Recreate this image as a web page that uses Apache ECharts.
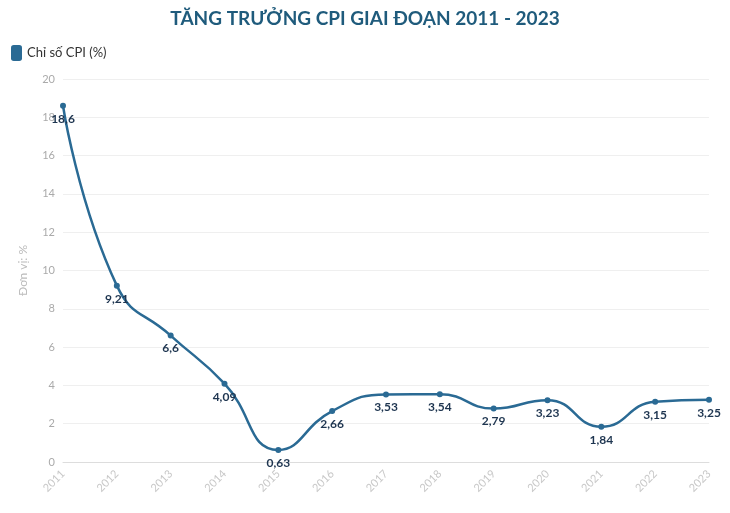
<!DOCTYPE html>
<html><head><meta charset="utf-8">
<script src="https://cdn.jsdelivr.net/npm/echarts@6/dist/echarts.min.js"></script>
<style>html,body{margin:0;background:#fff}#c{width:730px;height:513px}</style>
</head><body><div id="c"></div>
<script>
var years = ['2011','2012','2013','2014','2015','2016','2017','2018','2019','2020','2021','2022','2023'];
var cpi = [18.6, 9.21, 6.6, 4.09, 0.63, 2.66, 3.53, 3.54, 2.79, 3.23, 1.84, 3.15, 3.25];

var chart = echarts.init(document.getElementById('c'));
chart.setOption({
    animation: false,
    textStyle: { fontFamily: 'Lato, "Noto Sans", sans-serif' },
    title: {
        text: 'TĂNG TRƯỞNG CPI GIAI ĐOẠN 2011 - 2023',
        left: 'center', top: 4,
        textStyle: { color: '#1f5b7c', fontSize: 19, fontWeight: 'bold' }
    },
    legend: {
        data: ['Chỉ số CPI (%)'], left: 6, top: 40,
        icon: 'roundRect', itemWidth: 11, itemHeight: 16,
        textStyle: { color: '#333', fontSize: 13 }
    },
    grid: { left: 63, right: 21, top: 79, bottom: 51 },
    xAxis: {
        type: 'category', data: years, boundaryGap: false,
        axisLine: { lineStyle: { color: '#ddd' } },
        axisTick: { show: false },
        axisLabel: { rotate: 45, color: '#c8c8c8', fontSize: 11, margin: 10 }
    },
    yAxis: {
        type: 'value', min: 0, max: 20, interval: 2,
        name: 'Đơn vị: %', nameLocation: 'middle', nameGap: 34,
        nameTextStyle: { color: '#bbb', fontSize: 12 },
        axisLabel: { color: '#aaa', fontSize: 11 },
        splitLine: { lineStyle: { color: '#efefef' } }
    },
    series: [{
        name: 'Chỉ số CPI (%)', type: 'line', data: cpi, smooth: true,
        color: '#2a6a94', symbol: 'circle', symbolSize: 6,
        lineStyle: { width: 2.5 },
        label: {
            show: true, position: 'bottom', distance: 4,
            color: '#1e3550', fontWeight: 'bold', fontSize: 12,
            formatter: function(p) { return String(p.value).replace('.', ','); }
        }
    }]
});
</script></body></html>
